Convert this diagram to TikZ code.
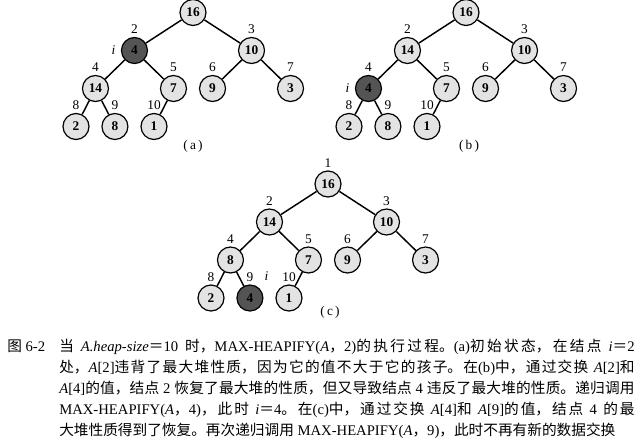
\documentclass[tikz,border=0pt]{standalone}
\usepackage{fontspec}
\setmainfont{Liberation Serif}
\newfontfamily\cjk{Noto Sans CJK SC}
\usetikzlibrary{positioning}

\XeTeXlinebreaklocale "zh"
\XeTeXlinebreakskip=0pt plus 1pt
\newcommand{\zh}[1]{{\cjk #1}}

\definecolor{keyfill}{gray}{0.89}
\definecolor{hotfill}{gray}{0.33}

\tikzset{
  key/.style={circle,draw,line width=0.9pt,fill=keyfill,minimum size=19.5pt,
    inner sep=0pt,font=\fontsize{10}{12}\selectfont\bfseries},
  hot/.style={key,fill=hotfill},
  idx/.style={font=\fontsize{10}{12}\selectfont,inner sep=1pt},
  tag/.style={font=\fontsize{10}{12}\selectfont},
  note/.style={font=\fontsize{11}{15.75}\selectfont,inner sep=0pt}
}

\begin{document}
\begin{tikzpicture}[x=0.75pt,y=-0.75pt,on grid,label distance=1pt]
    \useasboundingbox (0,0) rectangle (644,440);

    % (a) initial state
    \node[key]                          (a1)  at (193,12.5) {16};
    \node[hot,label={[idx]above:2},label={[idx,label distance=3pt]left:\textit{i}}]
                                        (a2)  [below left=28.5pt and 43.9pt of a1]  {4};
    \node[key,label={[idx]above:3}]     (a3)  [below right=28.5pt and 43.9pt of a1] {10};
    \node[key,label={[idx]above:4}]     (a4)  [below left=28.5pt and 29.25pt of a2] {14};
    \node[key,label={[idx]above:5}]     (a5)  [below right=28.5pt and 29.25pt of a2] {7};
    \node[key,label={[idx]above:6}]     (a6)  [below left=28.5pt and 29.25pt of a3] {9};
    \node[key,label={[idx]above:7}]     (a7)  [below right=28.5pt and 29.25pt of a3] {3};
    \node[key,label={[idx]above:8}]     (a8)  [below left=28.5pt and 14.6pt of a4]  {2};
    \node[key,label={[idx]above:9}]     (a9)  [below right=28.5pt and 14.6pt of a4] {8};
    \node[key,label={[idx]above:10}]    (a10) [below left=28.5pt and 14.6pt of a5]  {1};
    \node[tag]                          (capa) at (193,146) {(\,a\,)};
    \path[line width=1.1pt] (a1) edge (a2) edge (a3)
                            (a2) edge (a4) edge (a5)
                            (a3) edge (a6) edge (a7)
                            (a4) edge (a8) edge (a9)
                            (a5) edge (a10);

    % (b) after swapping A[2] and A[4]
    \node[key]                          (b1)  at (466,12.5) {16};
    \node[key,label={[idx]above:2}]     (b2)  [below left=28.5pt and 43.9pt of b1]  {14};
    \node[key,label={[idx]above:3}]     (b3)  [below right=28.5pt and 43.9pt of b1] {10};
    \node[hot,label={[idx]above:4},label={[idx,label distance=3pt]left:\textit{i}}]
                                        (b4)  [below left=28.5pt and 29.25pt of b2] {4};
    \node[key,label={[idx]above:5}]     (b5)  [below right=28.5pt and 29.25pt of b2] {7};
    \node[key,label={[idx]above:6}]     (b6)  [below left=28.5pt and 29.25pt of b3] {9};
    \node[key,label={[idx]above:7}]     (b7)  [below right=28.5pt and 29.25pt of b3] {3};
    \node[key,label={[idx]above:8}]     (b8)  [below left=28.5pt and 14.6pt of b4]  {2};
    \node[key,label={[idx]above:9}]     (b9)  [below right=28.5pt and 14.6pt of b4] {8};
    \node[key,label={[idx]above:10}]    (b10) [below left=28.5pt and 14.6pt of b5]  {1};
    \node[tag]                          (capb) at (469,146) {(\,b\,)};
    \path[line width=1.1pt] (b1) edge (b2) edge (b3)
                            (b2) edge (b4) edge (b5)
                            (b3) edge (b6) edge (b7)
                            (b4) edge (b8) edge (b9)
                            (b5) edge (b10);

    % (c) after swapping A[4] and A[9]
    \node[key,label={[idx]above:1}]     (c1)  at (328,184) {16};
    \node[key,label={[idx]above:2}]     (c2)  [below left=28.5pt and 43.9pt of c1]  {14};
    \node[key,label={[idx]above:3}]     (c3)  [below right=28.5pt and 43.9pt of c1] {10};
    \node[key,label={[idx]above:4}]     (c4)  [below left=28.5pt and 29.25pt of c2] {8};
    \node[key,label={[idx]above:5}]     (c5)  [below right=28.5pt and 29.25pt of c2] {7};
    \node[key,label={[idx]above:6}]     (c6)  [below left=28.5pt and 29.25pt of c3] {9};
    \node[key,label={[idx]above:7}]     (c7)  [below right=28.5pt and 29.25pt of c3] {3};
    \node[key,label={[idx]above:8}]     (c8)  [below left=28.5pt and 14.6pt of c4]  {2};
    \node[hot,label={[idx]above:9},label={[idx,label distance=5pt]50:\textit{i}}]
                                        (c9)  [below right=28.5pt and 14.6pt of c4] {4};
    \node[key,label={[idx]above:10}]    (c10) [below left=28.5pt and 14.6pt of c5]  {1};
    \node[tag]                          (capc) at (330,312) {(\,c\,)};
    \path[line width=1.1pt] (c1) edge (c2) edge (c3)
                            (c2) edge (c4) edge (c5)
                            (c3) edge (c6) edge (c7)
                            (c4) edge (c8) edge (c9)
                            (c5) edge (c10);

    % figure caption
    \node[note,anchor=base west] (fig) at (7,351) {\zh{图} 6-2};
    \node[note,anchor=base west,text width=431.5pt,align=justify] (caption) at (59,351)
      {\zh{当} \textit{A.heap-size}\zh{＝}10 \zh{时，}MAX-HEAPIFY(\textit{A}\zh{，}2)\zh{的执行过程。}(a)\zh{初始状态，在结点} \textit{i}\zh{＝}2\linebreak
       \zh{处，}\textit{A}[2]\zh{违背了最大堆性质，因为它的值不大于它的孩子。在}(b)\zh{中，通过交换} \textit{A}[2]\zh{和}\linebreak
       \textit{A}[4]\zh{的值，结点} 2 \zh{恢复了最大堆的性质，但又导致结点} 4 \zh{违反了最大堆的性质。递归调用}\linebreak
       MAX-HEAPIFY(\textit{A}\zh{，}4)\zh{，此时} \textit{i}\zh{＝}4\zh{。在}(c)\zh{中，通过交换} \textit{A}[4]\zh{和} \textit{A}[9]\zh{的值，结点} 4 \zh{的最}\linebreak
       \zh{大堆性质得到了恢复。再次递归调用} MAX-HEAPIFY(\textit{A}\zh{，}9)\zh{，此时不再有新的数据交换}};
\end{tikzpicture}
\end{document}
